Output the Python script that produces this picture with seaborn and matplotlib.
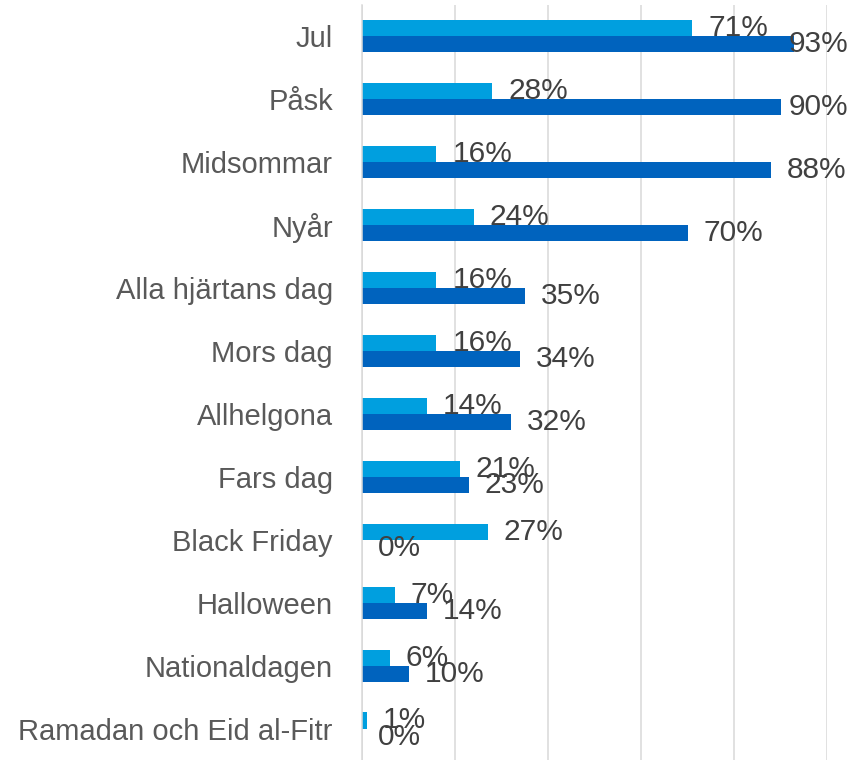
import pandas as pd
import matplotlib.pyplot as plt
import seaborn as sns

# categories, top to bottom
categories = [
    "Jul", "Påsk", "Midsommar", "Nyår", "Alla hjärtans dag", "Mors dag",
    "Allhelgona", "Fars dag", "Black Friday", "Halloween", "Nationaldagen",
    "Ramadan och Eid al-Fitr",
]
# light blue series (upper bar) and dark blue series (lower bar), in %
serie_1 = [71, 28, 16, 24, 16, 16, 14, 21, 27, 7, 6, 1]
serie_2 = [93, 90, 88, 70, 35, 34, 32, 23, 0, 14, 10, 0]
series = ["Serie 1", "Serie 2"]

df = pd.DataFrame({
    "kategori": categories * 2,
    "serie": [series[0]] * len(categories) + [series[1]] * len(categories),
    "andel": serie_1 + serie_2,
})

sns.set_theme(style="white")
plt.rcParams["font.family"] = ["Liberation Sans", "DejaVu Sans"]

fig = plt.figure(figsize=(8.63, 7.6), dpi=100)
ax = fig.add_axes([362 / 863, 0, 465 / 863, 755.5 / 760])

sns.barplot(
    data=df, y="kategori", x="andel", hue="serie", order=categories,
    hue_order=series, palette=["#009FDF", "#0063BE"], width=0.51,
    orient="h", legend=False, ax=ax, saturation=1, edgecolor="none",
)

labels = []
for cont in ax.containers:
    labels += ax.bar_label(cont, fmt="%.0f%%", padding=11.5, fontsize=21.5,
                           color="#404040", clip_on=False)

ax.set_xlim(0, 100)
ax.set_xticks([0, 20, 40, 60, 80, 100])
ax.set_xticklabels([])
ax.grid(axis="x", color="#D9D9D9", linewidth=1.1)
ax.grid(axis="y", visible=False)
ax.set_axisbelow(True)
for side in ["top", "right", "bottom"]:
    ax.spines[side].set_visible(False)
ax.spines["left"].set_color("#D9D9D9")
ax.spines["left"].set_linewidth(1.1)
ax.tick_params(axis="y", length=0, pad=21, labelsize=21, labelcolor="#595959")
ax.tick_params(axis="x", length=0)
ax.set_xlabel("")
ax.set_ylabel("")

# pull labels that would run off the right edge back inside (like Excel does)
fig.canvas.draw()
rend = fig.canvas.get_renderer()
for t in labels:
    x1 = t.get_window_extent(rend).x1
    if x1 > 848:
        dx, dy = t.xyann
        t.xyann = (dx - (x1 - 848) * 72 / 100, dy)

plt.savefig("out.png", dpi=100)
